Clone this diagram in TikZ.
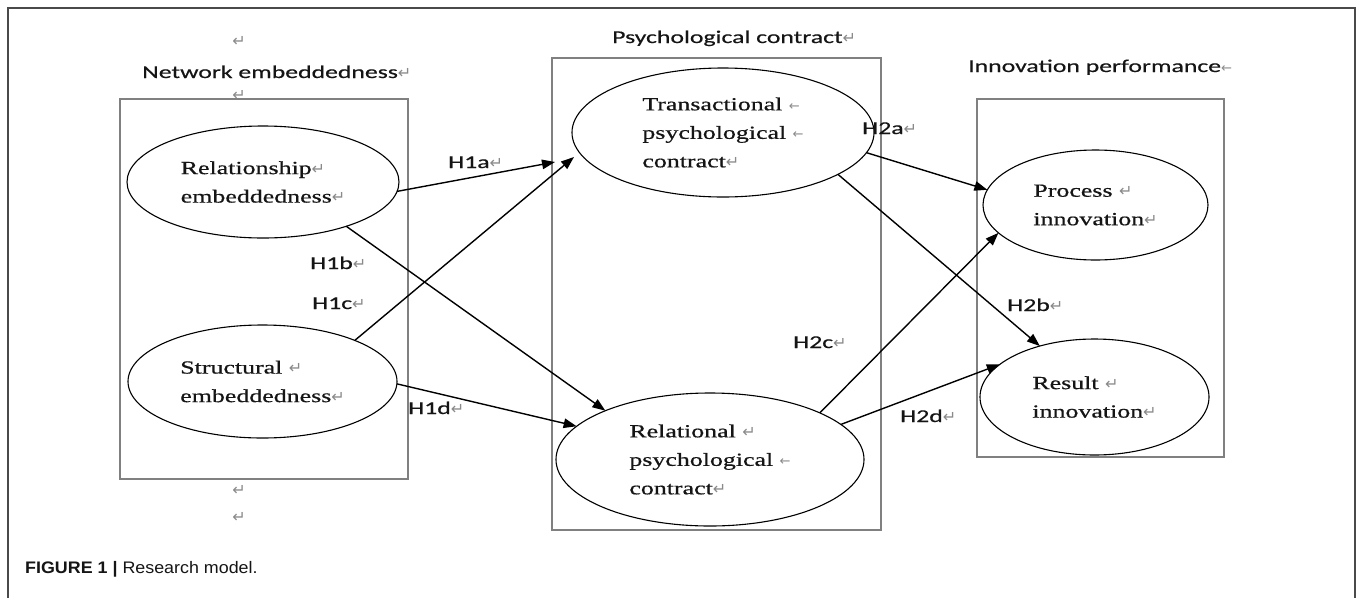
\documentclass[tikz,border=0pt]{standalone}
\usepackage{fontspec}
\usetikzlibrary{shapes.geometric,arrows.meta}
\setmainfont{Liberation Serif}[FakeStretch=1.4,FakeBold=0.6]
\newfontfamily\labfont{Carlito}[FakeStretch=1.43,FakeBold=0.4]
\newfontfamily\capfont{Liberation Sans}[FakeStretch=1.07]
\newfontfamily\symfont{DejaVu Sans}
\definecolor{boxgray}{HTML}{808080}
\definecolor{framegray}{HTML}{4A4A4A}
\definecolor{mk}{HTML}{8A8A8A}
\definecolor{ink}{HTML}{151515}
\newcommand\pmk{{\symfont\color{mk}\fontsize{16}{16}\selectfont ↵}}
\newcommand\lmk{{\symfont\color{mk}\fontsize{13}{13}\selectfont ←}}
\tikzset{
  ell/.style={draw=black, line width=1.1pt, ellipse, inner sep=0pt, outer sep=0pt,
    align=left, text=ink, font=\fontsize{18.5}{28.5}\selectfont},
  grp/.style={draw=boxgray, line width=1.4pt, rectangle, inner sep=0pt, outer sep=0pt},
  arr/.style={line width=1.4pt, draw=black, -{Triangle[length=13pt,width=9.5pt]}},
  lbl/.style={font=\labfont\fontsize{18}{20}\selectfont, text=ink, anchor=base west, inner sep=0pt},
  pmark/.style={inner sep=0pt},
}
\begin{document}
\begin{tikzpicture}[x=1pt,y=-1pt]
\useasboundingbox (0,0) rectangle (1358,598);
\fill[white] (0,0) rectangle (1358,598);
% outer frame
\draw[framegray, line width=1.3pt] (8,598) -- (8,8) -- (1355,8) -- (1355,598);
% group boxes
\node[grp, minimum width=288pt, minimum height=380pt] (boxN) at (264,289) {};
\node[grp, minimum width=329pt, minimum height=472pt] (boxP) at (716.5,294) {};
\node[grp, minimum width=247pt, minimum height=358pt] (boxI) at (1100.5,278) {};
% group titles and paragraph marks
\node[pmark] (m1) at (239,41) {\pmk};
\node[lbl] (tN) at (142,78) {Network embeddedness\pmk};
\node[pmark] (m2) at (239,95) {\pmk};
\node[pmark] (m3) at (239,490) {\pmk};
\node[pmark] (m4) at (239,517) {\pmk};
\node[lbl] (tP) at (612,43) {Psychological contract\pmk};
\node[lbl] (tI) at (968,72) {Innovation performance\lmk};
% ellipses
\node[ell, minimum width=272pt, minimum height=112pt] (rel) at (263,182) {Relationship\pmk\\embeddedness\pmk};
\node[ell, minimum width=269pt, minimum height=113pt] (str) at (262.5,381.5) {Structural \pmk\\embeddedness\pmk};
\node[ell, minimum width=302pt, minimum height=129pt] (tra) at (723,132.5) {Transactional \lmk\\psychological \lmk\\contract\pmk};
\node[ell, minimum width=308pt, minimum height=133pt] (rlc) at (710,459.5) {Relational \pmk\\psychological \lmk\\contract\pmk};
\node[ell, minimum width=225pt, minimum height=110pt] (pro) at (1095.5,205) {Process \pmk\\innovation\pmk};
\node[ell, minimum width=229pt, minimum height=116pt] (res) at (1094.5,397) {Result \pmk\\innovation\pmk};
% free arrow ends
\coordinate (h1aEnd) at (555,162);
\coordinate (h1cEnd) at (574,157);
% arrows
\draw[arr] (rel.-4) -- (h1aEnd);
\draw[arr] (rel.-28) -- (rlc.155);
\draw[arr] (str.24) -- (h1cEnd);
\draw[arr] (str.-1) -- (rlc.166);
\draw[arr] (tra.-8) -- (pro.172);
\draw[arr] (tra.-20) -- (res.137);
\draw[arr] (rlc.23) -- (pro.196);
\draw[arr] (rlc.15.5) -- (res.161);
% hypothesis labels
\node[lbl] (h1a) at (448,168) {H1a\pmk};
\node[lbl] (h1b) at (310,269) {H1b\pmk};
\node[lbl] (h1c) at (312,309) {H1c\pmk};
\node[lbl] (h1d) at (408,414) {H1d\pmk};
\node[lbl] (h2a) at (862,134) {H2a\pmk};
\node[lbl] (h2b) at (1007,311) {H2b\pmk};
\node[lbl] (h2c) at (793,348) {H2c\pmk};
\node[lbl] (h2d) at (900,422) {H2d\pmk};
% caption
\node[anchor=base west, inner sep=0pt, text=ink, font=\capfont\fontsize{16.7}{18}\selectfont] (cap) at (25,573) {\textbf{FIGURE 1 |} Research model.};
\end{tikzpicture}
\end{document}
